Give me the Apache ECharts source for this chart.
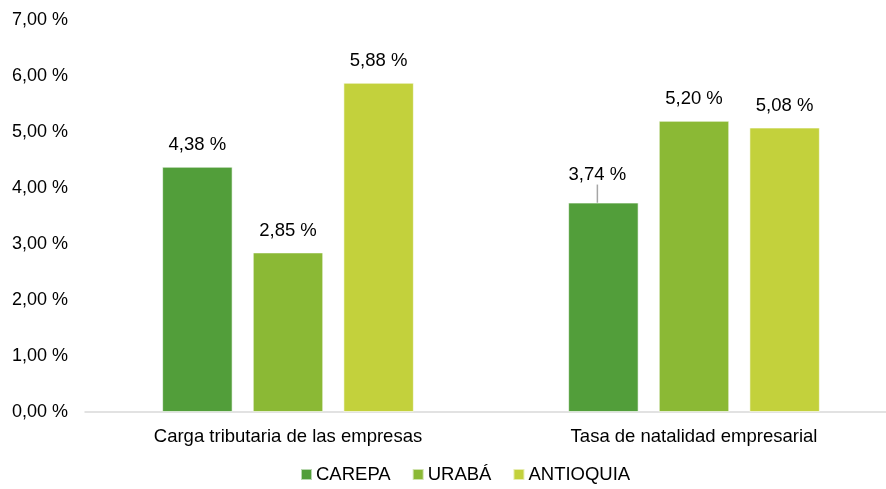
<!DOCTYPE html>
<html>
<head>
<meta charset="utf-8">
<script src="https://cdn.jsdelivr.net/npm/echarts@6/dist/echarts.min.js"></script>
<style>
  html, body { margin: 0; padding: 0; background: #fff; }
  #main { width: 886px; height: 489px; }
</style>
</head>
<body>
<div id="main"></div>
<script>
var categories = ['Carga tributaria de las empresas', 'Tasa de natalidad empresarial'];
var carepa = [4.38, 3.74];
var uraba = [2.85, 5.20];
var antioquia = [5.88, 5.08];
var seriesNames = ['CAREPA', 'URABÁ', 'ANTIOQUIA'];
var colors = ['#529e3a', '#8bb935', '#c3d13c'];

var myChart = echarts.init(document.getElementById('main'));

function pct(v) {
    return v.toFixed(2).replace('.', ',') + ' %';
}

var labelStyle = {
    show: true,
    position: 'top',
    distance: 12,
    color: '#000',
    fontSize: 18.5,
    fontFamily: 'Liberation Sans',
    formatter: function(p) { return pct(p.value); }
};

function makeSeries(name, data, color, idx) {
    return {
        name: name,
        type: 'bar',
        data: data.map(function(v, i) {
            // only the CAREPA label of the 2nd group is moved, with a leader line
            if (idx === 0 && i === 1) {
                return {
                    value: v,
                    labelLine: { show: true, lineStyle: { color: '#a6a6a6', width: 1.5 } }
                };
            }
            return { value: v, labelLine: { show: false } };
        }),
        barGap: '28.6%',
        barCategoryGap: '38%',
        itemStyle: { color: color, borderColor: 'rgba(255,255,255,0.6)', borderWidth: 1 },
        label: labelStyle,
        labelLayout: function(p) {
            if (p.seriesIndex === 0 && p.dataIndex === 1) {
                return { dx: -6, dy: -6 };
            }
            return {};
        }
    };
}

var option = {
    backgroundColor: '#fff',
    animation: false,
    textStyle: { fontFamily: 'Liberation Sans' },
    grid: { left: 85, right: -11, top: 20, bottom: 77, outerBoundsMode: 'none', containLabel: false },
    legend: {
        bottom: 0,
        left: 295,
        itemWidth: 11,
        itemHeight: 11,
        itemGap: 21,
        icon: 'rect',
        textStyle: { fontSize: 18.5, color: '#000', fontFamily: 'Liberation Sans', padding: [0, 0, 0, -1] },
        data: seriesNames
    },
    xAxis: {
        type: 'category',
        data: categories,
        axisTick: { show: false },
        axisLine: { lineStyle: { color: '#d9d9d9', width: 1.5 } },
        axisLabel: { color: '#000', fontSize: 18.5, margin: 15, fontFamily: 'Liberation Sans' }
    },
    yAxis: {
        type: 'value',
        min: 0,
        max: 7,
        interval: 1,
        splitLine: { show: false },
        axisLine: { show: false },
        axisTick: { show: false },
        axisLabel: {
            color: '#000',
            fontSize: 18,
            margin: 17,
            align: 'right',
            fontFamily: 'Liberation Sans',
            formatter: function(v) { return pct(v); }
        }
    },
    series: [
        makeSeries(seriesNames[0], carepa, colors[0], 0),
        makeSeries(seriesNames[1], uraba, colors[1], 1),
        makeSeries(seriesNames[2], antioquia, colors[2], 2)
    ]
};

myChart.setOption(option);
</script>
</body>
</html>
